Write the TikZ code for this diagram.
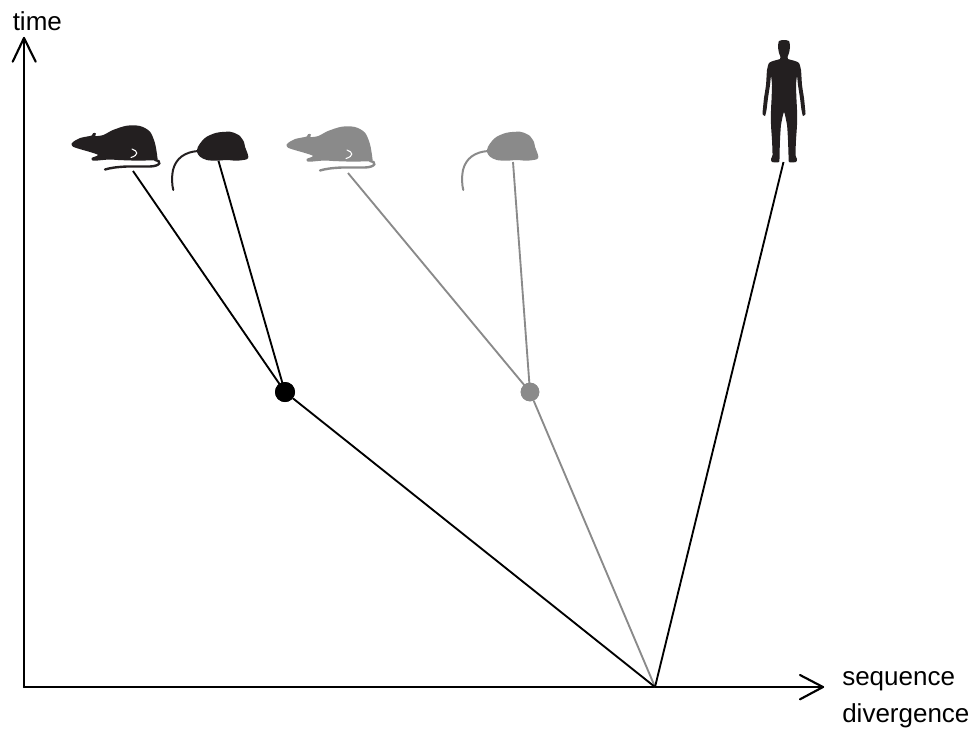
\documentclass[tikz,border=0pt]{standalone}
\usepackage{fontspec}
\setmainfont{Liberation Sans}
\definecolor{silhouette}{HTML}{231F20}
\definecolor{lingray}{HTML}{8A8A8A}
\begin{document}
\begin{tikzpicture}[x=0.75pt,y=-0.75pt,
  axis/.style={line width=1.6pt, line cap=round, line join=miter},
  branch/.style={line width=1.4pt},
  dot/.style={circle, inner sep=0pt, minimum size=15pt},
  lbl/.style={anchor=base west, inner sep=0pt, font=\fontsize{19.5}{24}\selectfont},
  rat/.pic={
    \fill plot[smooth cycle, tension=0.5] coordinates {
      (71.7,143.3) (76,140) (80,138) (87,136.5) (91.7,135.5) (93.3,133)
      (96,133.5) (95.5,136) (103.3,135) (113,130) (126.7,125.7) (140,126)
      (150,131.7) (155,143.3) (157.3,156.7) (156.7,160) (145,160.5)
      (131.7,160.5) (118,160) (110,159.5) (103,160) (93,160.7) (91.7,158)
      (98,155) (90,152) (83,150) (73,146.7)};
    \draw[line width=1.8pt, line cap=round]
      (155,160) .. controls (162,161) and (161,166) .. (150,166.5)
      -- (127,166.5) .. controls (116,167) and (110,168) .. (105,169.5);
    \draw[white, line width=0.8pt, line cap=round]
      (132,149) .. controls (138,151) and (139,155) .. (131,157.5);
  },
  mouse/.pic={
    \fill plot[smooth cycle, tension=0.5] coordinates {
      (198,146.7) (202,141) (206.7,136.7) (216.7,132.7) (230,131.7)
      (236.7,134) (240,136) (241.7,138.3) (244,142) (245,146.7) (247,152)
      (248.3,156.7) (246.7,159.3) (236.7,160.7) (226.7,160) (216.7,160.7)
      (206.7,160) (200,156.7) (197,152)};
    \draw[line width=1.5pt, line cap=round]
      (198,151) .. controls (185,152) and (176,158) .. (173,170)
      .. controls (171.5,178) and (172,185) .. (173.3,190);
  },
  human/.pic={
    \fill plot[smooth cycle, tension=0.35] coordinates {
      (0,0) (5,1) (6,7) (5,13) (3.5,17) (4,19) (11,21) (15,23) (17,30)
      (18,45) (20,58) (21,68) (21.5,74) (19,76) (17.5,70) (16,58) (14,45)
      (13,36) (12,45) (12.5,60) (13,70) (13,85) (12,100) (11.5,115)
      (13,119) (12,122) (5,122) (4.5,115) (4,100) (3,85) (0,72)
      (-3,85) (-4,100) (-4.5,115) (-5,122) (-12,122) (-13,119)
      (-11.5,115) (-12,100) (-13,85) (-13,70) (-12.5,60) (-12,45)
      (-13,36) (-14,45) (-16,58) (-17.5,70) (-19,76) (-21.5,74) (-21,68)
      (-20,58) (-18,45) (-17,30) (-15,23) (-11,21) (-4,19) (-3.5,17)
      (-5,13) (-6,7) (-5,1)};
  }]
\useasboundingbox (0,0) rectangle (977,729);

% axes
\coordinate (origin) at (24,687);
\coordinate (ytip) at (24,38);
\coordinate (xtip) at (823,687);
\draw[axis] (origin) -- (ytip);
\draw[axis] (origin) -- (xtip);
\draw[axis, line join=round] (12.7,61.7) -- (ytip) -- (35.7,61.7);
\draw[axis, line join=round] (800,675) -- (xtip) -- (800,699.3);
\node[lbl] (tlabel) at (12.5,30) {time};
\node[lbl] (slabel) at (842,685) {sequence};
\node[lbl] (dlabel) at (842,722) {divergence};

% silhouettes
\pic[color=silhouette] (ratA) at (0,0) {rat};
\pic[color=silhouette] (mouseA) at (0,0) {mouse};
\pic[color=lingray] (ratB) at (215,1) {rat};
\pic[color=lingray] (mouseB) at (290,0) {mouse};
\pic[color=silhouette] (man) at (784,40) {human};

% attachment points under each animal
\coordinate (ratAend) at (133,171);
\coordinate (mouseAend) at (218.5,161);
\coordinate (ratBend) at (348,173);
\coordinate (mouseBend) at (513,162);
\coordinate (manend) at (783.5,162);

% tree
\coordinate (root) at (655,687);
\node[dot, fill=black] (nb) at (285,392) {};
\node[dot, fill=lingray, minimum size=14pt] (ng) at (530,392) {};

\draw[branch, lingray] (root) -- (ng);
\draw[branch, lingray] (ng.center) -- (ratBend);
\draw[branch, lingray] (ng.center) -- (mouseBend);
\node[dot, fill=lingray, minimum size=14pt] at (ng) {};
\draw[branch] (root) -- (nb);
\draw[branch] (nb.center) -- (ratAend);
\draw[branch] (nb.center) -- (mouseAend);
\draw[branch] (root) -- (manend);
\node[dot, fill=black] at (nb) {};
\end{tikzpicture}
\end{document}
